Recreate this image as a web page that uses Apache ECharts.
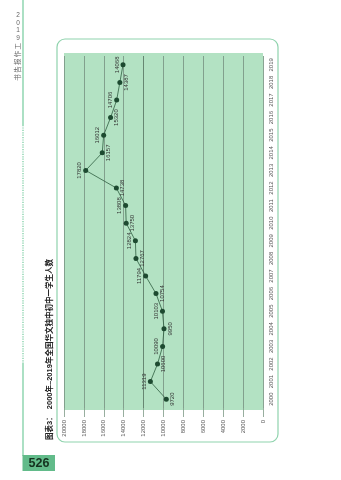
<!DOCTYPE html>
<html><head><meta charset="utf-8">
<script src="https://cdn.jsdelivr.net/npm/echarts@6/dist/echarts.min.js"></script>
<style>html,body{margin:0;padding:0;background:#fff}#c{width:341px;height:480px}</style>
</head><body><div id="c"></div>
<script>
// ---- data ----
const years = ['2000','2001','2002','2003','2004','2005','2006','2007','2008','2009',
               '2010','2011','2012','2013','2014','2015','2016','2017','2018','2019'];
const students = [9720,11319,10600,10090,9950,10103,10754,11794,12767,12824,
                  13750,13808,14738,17820,16157,16012,15320,14706,14387,14068];
const valueMin = 0, valueMax = 20000, valueStep = 2000;
const titleText = '图表3：  2000年–2019年全国华文独中初中一学生人数';
const headerChars = ['2','0','1','9','工','作','报','告','书'];
const pageNo = '526';

const FONT = '"Liberation Sans", Arial, "Noto Sans CJK SC", sans-serif';
const chart = echarts.init(document.getElementById('c'));

const headerEls = headerChars.map((ch, i) => ({
  type: 'text', id: 'hdr' + i, x: 18, y: 15 + i * 7.8,
  rotation: /[0-9]/.test(ch) ? 0 : Math.PI / 2,
  style: { text: ch, fontSize: 6.5, fill: '#666', align: 'center', verticalAlign: 'middle', fontFamily: FONT }
}));

chart.setOption({
  animation: false,
  grid: { left: 64, right: 78, top: 56, bottom: 72, show: false },
  xAxis: {
    type: 'value', inverse: true, min: valueMin, max: valueMax, interval: valueStep,
    axisLine: { show: false },
    axisTick: { show: true, length: 9, lineStyle: { color: '#7d9987', width: 0.8 } },
    axisLabel: { rotate: 90, fontSize: 6, color: '#555', margin: 12, fontFamily: FONT,
                 formatter: v => String(v) },
    splitLine: { show: true, lineStyle: { color: ['#7d9987','#7d9987','#7d9987','#7d9987','#7d9987','#7d9987','#5f7d69','#7d9987','#7d9987','#7d9987','#7d9987'], width: 0.9 } }
  },
  yAxis: {
    type: 'category', data: years, position: 'right', boundaryGap: true,
    axisLine: { show: false }, axisTick: { show: false },
    axisLabel: { rotate: 90, fontSize: 6, color: '#555', margin: 5, fontFamily: FONT }
  },
  series: [{
    type: 'line',
    data: students.map((v, i) => ({ value: v, label: { position: i % 2 ? 'left' : 'right' } })),
    symbol: 'circle', symbolSize: 5,
    lineStyle: { color: '#2e5e40', width: 0.8 },
    itemStyle: { color: '#1d4a30' },
    label: { show: true, rotate: 90, fontSize: 6, color: '#333', distance: 3.5,
             align: 'center', verticalAlign: 'middle', fontFamily: FONT, formatter: p => String(p.value) },
    z: 5
  }],
  graphic: [
    { type: 'rect', id: 'plotbg', z: -10, shape: { x: 64, y: 53, width: 199, height: 357 }, style: { fill: '#b3e2c3' } },
    { type: 'rect', id: 'box', z: -11, shape: { x: 57, y: 39, width: 221, height: 403, r: 8 }, style: { fill: '#fff', stroke: '#8fd3ad', lineWidth: 1.2 } },
    { type: 'line', id: 'l1', shape: { x1: 23, y1: 0, x2: 23, y2: 125 }, style: { stroke: '#7fcfa5', lineWidth: 1.3 } },
    { type: 'line', id: 'l2', shape: { x1: 23, y1: 125, x2: 23, y2: 363 }, style: { stroke: '#7fcfa5', lineWidth: 1.3, lineDash: [1.2, 1.2] } },
    { type: 'line', id: 'l3', shape: { x1: 23, y1: 363, x2: 23, y2: 456 }, style: { stroke: '#7fcfa5', lineWidth: 1.3 } },
    { type: 'rect', id: 'pgbox', shape: { x: 22.5, y: 455, width: 32.5, height: 16 }, style: { fill: '#62bb8a' } },
    { type: 'text', id: 'pgno', x: 39, y: 463.5, style: { text: pageNo, fontSize: 12.5, fontWeight: 'bold', fill: '#15321f', align: 'center', verticalAlign: 'middle', fontFamily: FONT } },
    { type: 'text', id: 'title', x: 50, y: 440, rotation: Math.PI / 2, style: { text: titleText, fontSize: 7.5, fontWeight: 'bold', fill: '#222', align: 'left', verticalAlign: 'middle', fontFamily: FONT } }
  ].concat(headerEls)
});
</script></body></html>
